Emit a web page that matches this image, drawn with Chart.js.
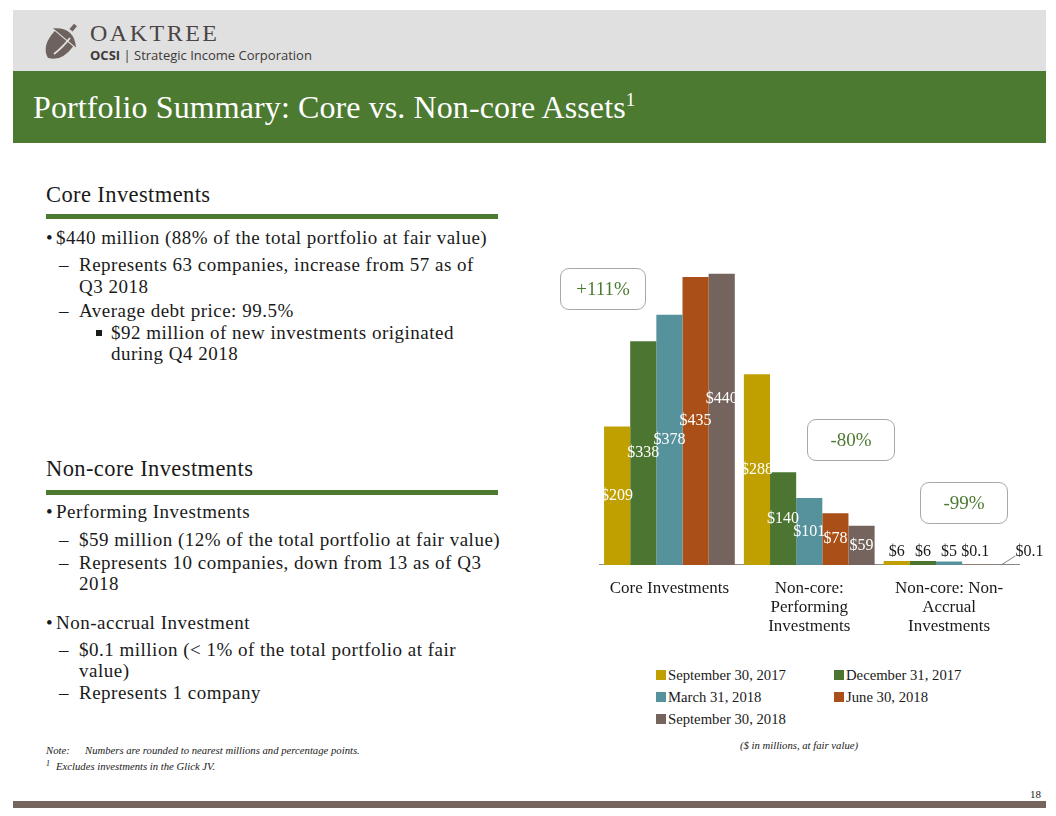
<!DOCTYPE html>
<html>
<head>
<meta charset="utf-8">
<script src="https://cdn.jsdelivr.net/npm/chart.js@4.4.1/dist/chart.umd.min.js"></script>
<style>
  body { margin: 0; width: 1056px; height: 816px; position: relative; overflow: hidden; background: #fff;
         font-family: "Liberation Serif", serif; color: #1a1a1a; }
  .abs { position: absolute; white-space: nowrap; }
  .txt { font-size: 19px; line-height: 20px; letter-spacing: 0.5px; }
  .head { font-size: 22.5px; line-height: 24px; letter-spacing: 0.4px; }
  .rule { position: absolute; left: 46px; width: 452px; height: 5px; background: #4d7a31; }
  .note { font-size: 10.7px; line-height: 12px; font-style: italic; }
  .callout { position: absolute; border: 1px solid #a8a8a8; border-radius: 9px; color: #4d7a31;
             font-size: 19px; display: flex; align-items: center; justify-content: center; box-sizing: border-box; }
  #legend { position: absolute; left: 656px; top: 665px; display: grid; grid-template-columns: 178px 180px;
            row-gap: 2px; font-size: 14.7px; line-height: 20px; }
  #legend div { display: flex; align-items: center; white-space: nowrap; }
  #legend span.sw { width: 10px; height: 10px; margin-right: 2px; display: inline-block; }
</style>
</head>
<body>
<!-- header -->
<div class="abs" style="left:13px;top:10px;width:1033px;height:61px;background:#e0e0e0"></div>
<svg class="abs" style="left:40px;top:18px" width="44" height="46">
  <g transform="rotate(40 22 23)" fill="#6e625e">
    <path d="M10 20 Q9 40 22 45 Q35 40 34 20 Z"/>
    <path d="M7 19 Q22 4 37 19 Z"/>
    <rect x="20" y="2" width="4" height="7"/>
  </g>
  <path d="M14 36 Q22 30 30 20" stroke="#e0e0e0" stroke-width="2" fill="none"/>
</svg>
<div class="abs" style="left:90px;top:21px;font-size:24px;letter-spacing:2.5px;color:#4a4544;line-height:24px">OAKTREE</div>
<div class="abs" style="left:90px;top:46px;font-family:'Open Sans',sans-serif;font-size:13px;line-height:18px;color:#3d3938">
  <b>OCSI</b> | Strategic Income Corporation</div>
<div class="abs" style="left:13px;top:71px;width:1033px;height:72px;background:#4d7a31"></div>
<div class="abs" style="left:33px;top:89px;font-size:32px;line-height:36px;letter-spacing:0.1px;color:#fff">Portfolio Summary: Core vs. Non-core Assets<sup style="font-size:19px;line-height:0">1</sup></div>

<!-- left text -->
<div class="abs head" style="left:46px;top:183px">Core Investments</div>
<div class="rule" style="top:214px"></div>
<div class="abs txt" style="left:46px;top:228px">•</div>
<div class="abs txt" style="left:56px;top:228px">$440 million (88% of the total portfolio at fair value)</div>
<div class="abs txt" style="left:59px;top:255px">–</div>
<div class="abs txt" style="left:79px;top:255px">Represents 63 companies, increase from 57 as of</div>
<div class="abs txt" style="left:79px;top:277px">Q3 2018</div>
<div class="abs txt" style="left:59px;top:301px">–</div>
<div class="abs txt" style="left:79px;top:301px">Average debt price: 99.5%</div>
<div class="abs" style="left:96px;top:330px;width:6px;height:6px;background:#1a1a1a"></div>
<div class="abs txt" style="left:111px;top:323px">$92 million of new investments originated</div>
<div class="abs txt" style="left:111px;top:344px">during Q4 2018</div>

<div class="abs head" style="left:46px;top:457px">Non-core Investments</div>
<div class="rule" style="top:490px"></div>
<div class="abs txt" style="left:46px;top:502px">•</div>
<div class="abs txt" style="left:56px;top:502px">Performing Investments</div>
<div class="abs txt" style="left:59px;top:530px">–</div>
<div class="abs txt" style="left:79px;top:530px">$59 million (12% of the total portfolio at fair value)</div>
<div class="abs txt" style="left:59px;top:553px">–</div>
<div class="abs txt" style="left:79px;top:553px">Represents 10 companies, down from 13 as of Q3</div>
<div class="abs txt" style="left:79px;top:574px">2018</div>
<div class="abs txt" style="left:46px;top:613px">•</div>
<div class="abs txt" style="left:56px;top:613px">Non-accrual Investment</div>
<div class="abs txt" style="left:59px;top:640px">–</div>
<div class="abs txt" style="left:79px;top:640px">$0.1 million (&lt; 1% of the total portfolio at fair</div>
<div class="abs txt" style="left:79px;top:661px">value)</div>
<div class="abs txt" style="left:59px;top:683px">–</div>
<div class="abs txt" style="left:79px;top:683px">Represents 1 company</div>

<div class="abs note" style="left:46px;top:744px">Note:</div>
<div class="abs note" style="left:85px;top:744px">Numbers are rounded to nearest millions and percentage points.</div>
<div class="abs note" style="left:46px;top:758px;font-size:8px">1</div>
<div class="abs note" style="left:56px;top:760px">Excludes investments in the Glick JV.</div>
<div class="abs note" style="left:799px;top:739px;transform:translateX(-50%)">($ in millions, at fair value)</div>
<div class="abs" style="left:1030px;top:788px;font-size:11px;line-height:12px">18</div>
<div class="abs" style="left:13px;top:801px;width:1033px;height:7px;background:#76655e"></div>

<!-- chart -->
<div class="abs" style="left:560px;top:230px;width:490px;height:420px">
  <canvas id="chart"></canvas>
</div>
<div class="callout" style="left:560px;top:268px;width:86px;height:42px">+111%</div>
<div class="callout" style="left:807px;top:419px;width:88px;height:42px">-80%</div>
<div class="callout" style="left:920px;top:482px;width:88px;height:42px">-99%</div>
<div id="legend"></div>

<script>
const categories = [["Core Investments"], ["Non-core:", "Performing", "Investments"], ["Non-core: Non-", "Accrual", "Investments"]];
const seriesNames = ["September 30, 2017", "December 31, 2017", "March 31, 2018", "June 30, 2018", "September 30, 2018"];
const sep2017 = [209, 288, 6];
const dec2017 = [338, 140, 6];
const mar2018 = [378, 101, 5];
const jun2018 = [435, 78, 0.1];
const sep2018 = [440, 59, 0.1];
const seriesColors = ["#bfa000", "#4b7530", "#56929c", "#a94f17", "#75645d"];

const seriesValues = [sep2017, dec2017, mar2018, jun2018, sep2018];
const chartCanvas = document.getElementById("chart");

// values on the bars; small ones sit above, the very last one gets a leader line.
// a label that would sit on top of its left neighbour is lifted above it
const barLabels = {
    id: "barLabels",
    afterDatasetsDraw(chart) {
        const ctx = chart.ctx;
        const lastSet = chart.data.datasets.length - 1;
        const prev = {};
        ctx.save();
        ctx.font = '16px "Liberation Serif"';
        ctx.textAlign = "center";
        ctx.textBaseline = "middle";
        chart.data.datasets.forEach((ds, i) => {
            chart.getDatasetMeta(i).data.forEach((bar, j) => {
                const v = ds.data[j];
                const txt = "$" + v;
                if (v >= 50) {
                    const w = ctx.measureText(txt).width;
                    let y = (bar.y + bar.base) / 2;
                    const p = prev[j];
                    if (p && Math.abs(y - p.y) < 12 && (w + p.w) / 2 - (bar.x - p.x) > 3) {
                        y = p.y - 22;
                    }
                    prev[j] = { x: bar.x, y: y, w: w };
                    ctx.fillStyle = "#ffffff";
                    ctx.fillText(txt, bar.x, y);
                } else if (i === lastSet && j === ds.data.length - 1) {
                    ctx.strokeStyle = "#808080";
                    ctx.lineWidth = 1;
                    ctx.beginPath();
                    ctx.moveTo(bar.x, bar.base);
                    ctx.lineTo(bar.x + 14, bar.base - 9);
                    ctx.stroke();
                    ctx.fillStyle = "#1a1a1a";
                    ctx.fillText(txt, bar.x + 28, bar.base - 13);
                } else {
                    ctx.fillStyle = "#1a1a1a";
                    ctx.fillText(txt, bar.x, bar.base - 13);
                }
            });
        });
        ctx.restore();
    }
};

const chartInstance = new Chart(chartCanvas, {
    type: "bar",
    data: {
        labels: categories,
        datasets: seriesNames.map((name, i) => ({
            label: name,
            data: seriesValues[i],
            backgroundColor: seriesColors[i],
            categoryPercentage: 0.935,
            barPercentage: 1.0,
        })),
    },
    options: {
        responsive: true,
        maintainAspectRatio: false,
        animation: false,
        layout: { padding: { left: 39.5, right: 31, top: 4, bottom: 0 } },
        plugins: { legend: { display: false }, tooltip: { enabled: false } },
        scales: {
            x: {
                grid: { display: false, drawTicks: false },
                border: { display: true, color: "#8c8c8c", width: 1 },
                ticks: {
                    color: "#1a1a1a",
                    padding: 14,
                    maxRotation: 0,
                    font: { family: "Liberation Serif", size: 17, lineHeight: 1.12 },
                },
            },
            y: { display: false, min: 0, max: 500 },
        },
    },
    plugins: [barLabels],
});

// legend in two columns, built from the datasets
const legendBox = document.getElementById("legend");
chartInstance.data.datasets.forEach((ds) => {
    const item = document.createElement("div");
    item.innerHTML = `<span class="sw" style="background:${ds.backgroundColor}"></span>${ds.label}`;
    legendBox.appendChild(item);
});
</script>
</body>
</html>
